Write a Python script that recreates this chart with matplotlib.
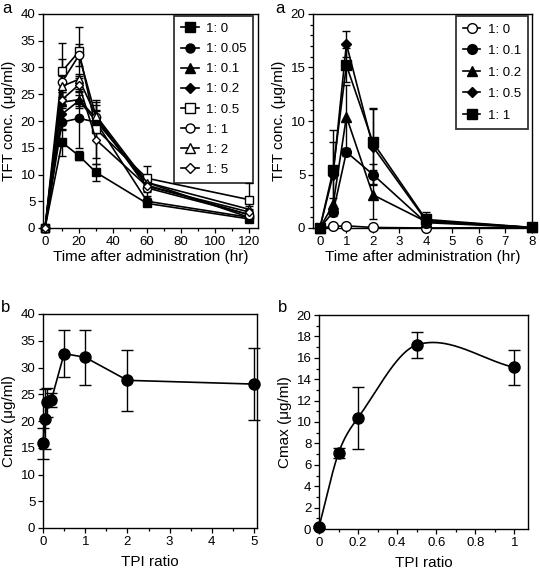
import numpy as np
import matplotlib
matplotlib.use('Agg')
import matplotlib.pyplot as plt
from matplotlib.ticker import MultipleLocator, FuncFormatter
from matplotlib.lines import Line2D

plt.rcParams['font.family'] = ['Liberation Sans', 'DejaVu Sans']
plt.rcParams['font.size'] = 9.5

# ---- panel a (left): TFT concentration, ratios 1:0 .. 1:5
time_l = [0, 10, 20, 30, 60, 120]
labels_l = ['1: 0', '1: 0.05', '1: 0.1', '1: 0.2', '1: 0.5', '1: 1', '1: 2', '1: 5']
conc_l = [
    [0, 16.0, 13.5, 10.4, 4.6, 1.7],
    [0, 19.8, 20.5, 19.8, 5.0, 2.0],
    [0, 23.5, 24.0, 20.5, 8.0, 2.5],
    [0, 21.3, 23.8, 20.0, 8.5, 2.0],
    [0, 29.3, 33.0, 18.5, 9.3, 5.3],
    [0, 27.3, 32.3, 20.8, 7.5, 2.5],
    [0, 26.5, 27.8, 21.0, 8.5, 3.5],
    [0, 24.0, 26.8, 16.5, 7.8, 3.0],
]
err_l = [
    [0, 2.5, 0.8, 1.6, 0.5, 0.3],
    [0, 1.5, 5.5, 2.0, 0.6, 0.3],
    [0, 2.0, 1.5, 1.5, 1.0, 0.5],
    [0, 1.5, 1.0, 1.0, 1.0, 0.4],
    [0, 5.2, 4.5, 5.5, 2.2, 3.2],
    [0, 4.2, 2.0, 2.8, 1.5, 0.8],
    [0, 2.0, 1.0, 2.0, 1.2, 0.6],
    [0, 1.5, 1.2, 4.5, 1.0, 0.5],
]
markers_l = ['s', 'o', '^', 'D', 's', 'o', '^', 'D']
filled_l = [True, True, True, True, False, False, False, False]

# ---- panel a (right)
time_r = [0, 0.5, 1, 2, 4, 8]
labels_r = ['1: 0', '1: 0.1', '1: 0.2', '1: 0.5', '1: 1']
conc_r = [
    [0, 0.15, 0.2, 0.05, 0.0, 0.05],
    [0, 1.5, 7.1, 5.0, 0.5, 0.05],
    [0, 2.2, 10.4, 3.1, 0.6, 0.05],
    [0, 5.0, 17.2, 7.6, 0.7, 0.05],
    [0, 5.4, 15.2, 8.0, 0.8, 0.05],
]
err_r = [
    [0, 0.1, 0.1, 0.05, 0, 0],
    [0, 0.4, 0.4, 1.0, 0.3, 0],
    [0, 0.6, 3.0, 2.3, 0.5, 0],
    [0, 3.0, 1.2, 3.5, 0.5, 0],
    [0, 3.8, 1.6, 3.2, 0.7, 0],
]
markers_r = ['o', 'o', '^', 'D', 's']
filled_r = [False, True, True, True, True]

# ---- panel b (left)
ratio_l = [0, 0.05, 0.1, 0.2, 0.5, 1, 2, 5]
cmax_l = [15.8, 20.3, 23.5, 24.0, 32.6, 31.9, 27.6, 26.9]
cerr_l = [2.9, 5.6, 2.7, 1.3, 4.4, 5.2, 5.7, 6.8]

# ---- panel b (right)
ratio_r = [0, 0.1, 0.2, 0.5, 1]
cmax_r = [0.2, 7.1, 10.4, 17.2, 15.1]
cerr_r = [0.1, 0.45, 2.9, 1.2, 1.6]

W, H = 540, 570
fig = plt.figure(figsize=(W / 100, H / 100), dpi=100)


def box(l, t, r, b):
    return fig.add_axes([l / W, 1 - b / H, (r - l) / W, (b - t) / H])


def style(ax):
    for s in ax.spines.values():
        s.set_linewidth(1.0)
    ax.tick_params(which='major', direction='out', length=3.5, width=0.9, pad=2, labelsize=9.5)
    ax.tick_params(which='minor', direction='out', length=2, width=0.9)


def draw(ax, x, y, e, m, filled, ms):
    ax.errorbar(x, y, yerr=e, color='black', lw=1.2, marker=m, ms=ms,
                mfc='black' if filled else 'white', mec='black', mew=1.0,
                ecolor='black', elinewidth=1.0, capsize=3.2, capthick=1.0,
                clip_on=False, zorder=3)


def handles(markers, filled, sizes):
    return [Line2D([], [], color='black', lw=1.2, marker=m, ms=s,
                   mfc='black' if f else 'white', mec='black', mew=1.0)
            for m, f, s in zip(markers, filled, sizes)]


def smooth_line(x, y, xs):
    # Catmull-Rom style cubic Hermite curve through the measured means
    x = np.asarray(x, float)
    y = np.asarray(y, float)
    n = len(x)
    d = np.zeros(n)
    d[0] = (y[1] - y[0]) / (x[1] - x[0])
    d[-1] = (y[-1] - y[-2]) / (x[-1] - x[-2])
    d[1:-1] = (y[2:] - y[:-2]) / (x[2:] - x[:-2])
    k = np.clip(np.searchsorted(x, xs) - 1, 0, n - 2)
    h = x[k + 1] - x[k]
    t = (xs - x[k]) / h
    h00 = 2 * t ** 3 - 3 * t ** 2 + 1
    h10 = t ** 3 - 2 * t ** 2 + t
    h01 = -2 * t ** 3 + 3 * t ** 2
    h11 = t ** 3 - t ** 2
    return h00 * y[k] + h10 * h * d[k] + h01 * y[k + 1] + h11 * h * d[k + 1]


ax1 = box(43, 14, 258, 228)
sizes_l = [6 if m != 'D' else 4.5 for m in markers_l]
for y, e, m, f, s in zip(conc_l, err_l, markers_l, filled_l, sizes_l):
    draw(ax1, time_l, y, e, m, f, s)
ax1.set_xlim(-1.2, 125.3)
ax1.set_ylim(0, 40)
ax1.xaxis.set_major_locator(MultipleLocator(20))
ax1.xaxis.set_minor_locator(MultipleLocator(10))
ax1.yaxis.set_major_locator(MultipleLocator(5))
style(ax1)
ax1.set_xlabel('Time after administration (hr)', fontsize=11, labelpad=2)
ax1.set_ylabel('TFT conc. (μg/ml)', fontsize=11, labelpad=3)
leg = ax1.legend(handles(markers_l, filled_l, [6.5 if m != 'D' else 5 for m in markers_l]),
                 labels_l, loc='upper right',
                 frameon=True, fancybox=False, edgecolor='black', fontsize=9.5,
                 handlelength=1.4, labelspacing=0.6, borderpad=0.5, borderaxespad=0,
                 handletextpad=0.5, bbox_to_anchor=(0.977, 0.99))
leg.get_frame().set_linewidth(1.3)

ax2 = box(313, 14, 532, 228)
sizes_r = [7 if m != 'D' else 5.5 for m in markers_r]
for y, e, m, f, s in zip(conc_r, err_r, markers_r, filled_r, sizes_r):
    draw(ax2, time_r, y, e, m, f, s)
ax2.set_xlim(-0.26, 8)
ax2.set_ylim(0, 20)
ax2.xaxis.set_major_locator(MultipleLocator(1))
ax2.yaxis.set_major_locator(MultipleLocator(5))
ax2.yaxis.set_minor_locator(MultipleLocator(1))
style(ax2)
ax2.set_xlabel('Time after administration (hr)', fontsize=11, labelpad=2)
ax2.set_ylabel('TFT conc. (μg/ml)', fontsize=11, labelpad=3)
leg = ax2.legend(handles(markers_r, filled_r, sizes_r), labels_r, loc='upper right',
                 frameon=True, fancybox=False, edgecolor='black', fontsize=9.5,
                 handlelength=1.3, labelspacing=0.7, borderpad=0.55, borderaxespad=0,
                 handletextpad=0.55, bbox_to_anchor=(0.982, 0.99))
leg.get_frame().set_linewidth(1.3)

ax3 = box(43, 314, 257, 528)
ax3.errorbar(ratio_l, cmax_l, yerr=cerr_l, color='black', lw=1.2, marker='o', ms=8,
             mfc='black', mec='black', ecolor='black', elinewidth=1.0, capsize=4,
             capthick=1.0, clip_on=False, zorder=3)
ax3.set_xlim(0, 5.07)
ax3.set_ylim(0, 40)
ax3.xaxis.set_major_locator(MultipleLocator(1))
ax3.xaxis.set_minor_locator(MultipleLocator(0.5))
ax3.yaxis.set_major_locator(MultipleLocator(5))
style(ax3)
ax3.set_xlabel('TPI ratio', fontsize=11, labelpad=5)
ax3.set_ylabel('Cmax (μg/ml)', fontsize=11, labelpad=3)

ax4 = box(319, 315, 528, 529)
xs = np.linspace(0, 1, 300)
ax4.plot(xs, smooth_line(ratio_r, cmax_r, xs), color='black', lw=1.2, zorder=2)
ax4.errorbar(ratio_r, cmax_r, yerr=cerr_r, fmt='o', color='black', ms=8,
             mfc='black', mec='black', ecolor='black', elinewidth=1.0, capsize=4,
             capthick=1.0, clip_on=False, zorder=3)
ax4.set_xlim(0, 1.07)
ax4.set_ylim(0, 20)
ax4.xaxis.set_major_locator(MultipleLocator(0.2))
ax4.xaxis.set_minor_locator(MultipleLocator(0.1))
ax4.xaxis.set_major_formatter(FuncFormatter(lambda v, p: '%g' % round(v, 2)))
ax4.yaxis.set_major_locator(MultipleLocator(2))
ax4.yaxis.set_minor_locator(MultipleLocator(1))
style(ax4)
ax4.set_xlabel('TPI ratio', fontsize=11, labelpad=5)
ax4.set_ylabel('Cmax (μg/ml)', fontsize=11, labelpad=3)

fig.text(2 / W, 1 - 1 / H, 'a', fontsize=12, va='top', ha='left')
fig.text(275 / W, 1 - 1 / H, 'a', fontsize=12, va='top', ha='left')
fig.text(1 / W, 1 - 300 / H, 'b', fontsize=12, va='top', ha='left')
fig.text(278 / W, 1 - 300 / H, 'b', fontsize=12, va='top', ha='left')

fig.savefig('out.png', dpi=100)
